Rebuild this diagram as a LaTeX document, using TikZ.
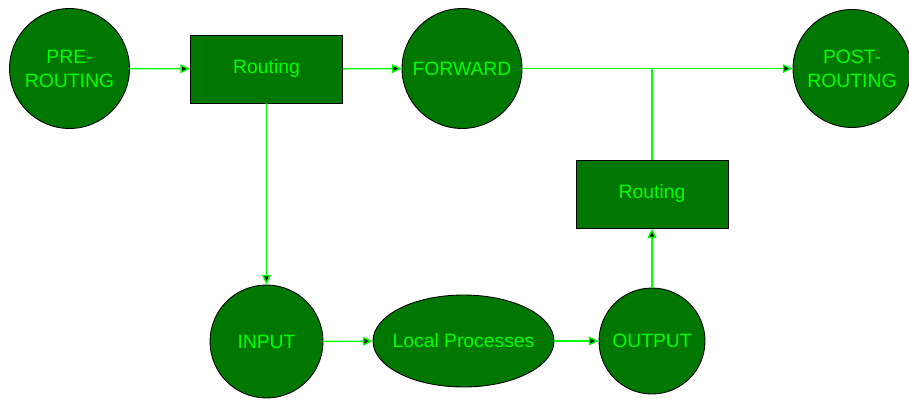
\documentclass[tikz,border=0pt]{standalone}
\usepackage{fontspec}
\setmainfont{Liberation Sans}
\usepackage{tikz}
\usetikzlibrary{arrows.meta,calc,positioning,shapes.geometric}
\definecolor{darkgrn}{RGB}{0,119,0}
\definecolor{limegrn}{RGB}{0,255,0}
\tikzset{
  hook/.style={circle,draw=black,line width=0.5pt,fill=darkgrn,text=limegrn,
    minimum size=#1,inner sep=0pt,align=center,
    font=\fontsize{11}{13.6}\selectfont},
  rbox/.style={rectangle,draw=black,line width=0.5pt,fill=darkgrn,text=limegrn,
    minimum width=3.04cm,minimum height=1.36cm,font=\fontsize{11}{13.6}\selectfont},
  proc/.style={ellipse,draw=black,line width=0.5pt,fill=darkgrn,text=limegrn,
    minimum width=3.62cm,minimum height=1.84cm,inner xsep=-4pt,inner ysep=0pt,
    font=\fontsize{11}{13.6}\selectfont}
}

\begin{document}
\begin{tikzpicture}[x=0.02cm,y=-0.02cm]
\useasboundingbox (0,0) rectangle (909,399);
\node[hook=2.4cm] (PRE) at (69.5,68.5) {PRE-\\ROUTING};
\node[rbox] (R1) at (266.5,69) {Routing};
\node[hook=2.4cm] (FWD) at (462,68.5) {FORWARD};
\node[hook=2.36cm] (POST) at (852,68.5) {POST-\\ROUTING};
\node[rbox] (R2) at (652,194) {Routing};
\node[hook=2.26cm] (IN) at (266.5,341.5) {INPUT};
\node[proc] (LP) at (463.5,341) {Local Processes};
\node[hook=2.12cm] (OUT) at (652,341) {OUTPUT};
\coordinate (J) at (652,68.5);
\path[-{Triangle[length=5.5pt,width=5pt]},draw=limegrn,line width=0.8pt]
(PRE) edge (R1)
(R1) edge (FWD)
(R1) edge (IN)
(IN) edge (LP)
(LP) edge (OUT)
(OUT) edge (R2)
(FWD) edge (POST);
\draw[limegrn,line width=0.8pt] (R2) -- (J);
\end{tikzpicture}
\end{document}
